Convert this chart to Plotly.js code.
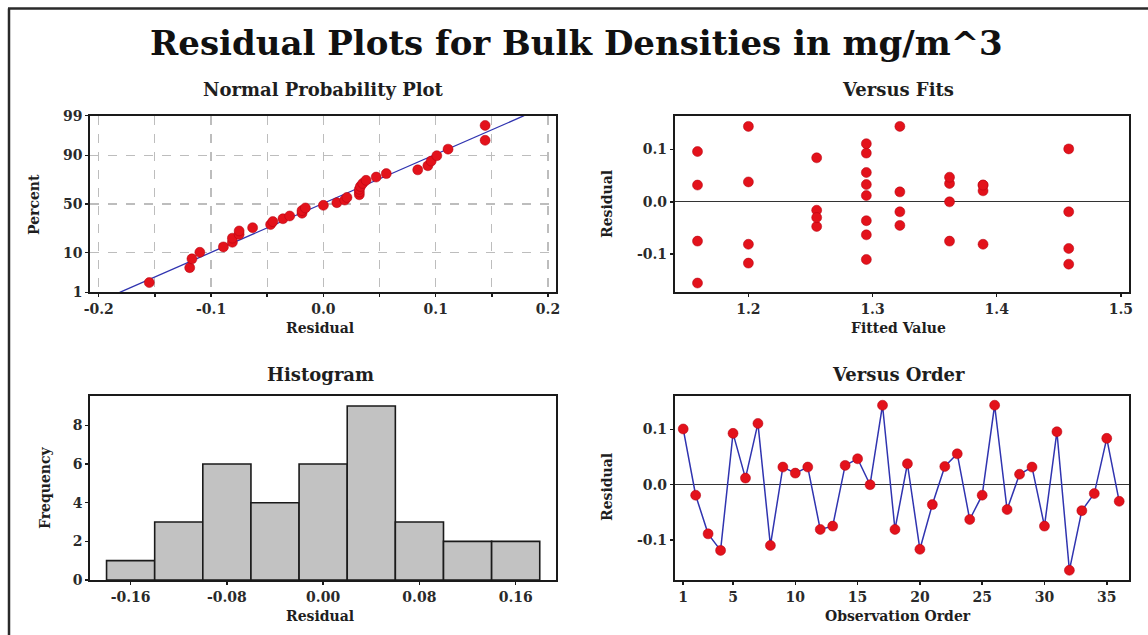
<!DOCTYPE html>
<html>
<head>
<meta charset="utf-8">
<script src="https://cdn.plot.ly/plotly-3.0.1.min.js"></script>
<style>
html,body{margin:0;padding:0;background:#fff;}
#chart{width:1148px;height:635px;}
</style>
</head>
<body>
<div id="chart"></div>
<script>
// ---- data ----
const observationOrder = [1,2,3,4,5,6,7,8,9,10,11,12,13,14,15,16,17,18,19,20,21,22,23,24,25,26,27,28,29,30,31,32,33,34,35,36];
const residuals = [0.101,-0.019,-0.089,-0.119,0.093,0.012,0.111,-0.110,0.032,0.021,0.032,-0.081,
                   -0.075,0.035,0.047,0.000,0.144,-0.081,0.038,-0.117,-0.036,0.033,0.056,-0.063,
                   -0.019,0.144,-0.045,0.019,0.032,-0.075,0.096,-0.155,-0.047,-0.016,0.084,-0.030];
const fittedValues = [1.458,1.458,1.458,1.458,1.295,1.295,1.295,1.295,1.389,1.389,1.389,1.389,
                      1.362,1.362,1.362,1.362,1.200,1.200,1.200,1.200,1.295,1.295,1.295,1.295,
                      1.322,1.322,1.322,1.322,1.159,1.159,1.159,1.159,1.255,1.255,1.255,1.255];

// tick labels
const probTickPercents = [1,10,50,90,99];
const probTickLabels = ['1','10','50','90','99'];
const npXTickVals = [-0.2,-0.15,-0.1,-0.05,0,0.05,0.1,0.15,0.2];
const npXTickText = ['-0.2','','-0.1','','0.0','','0.1','','0.2'];
const fitsXTickVals = [1.2,1.3,1.4,1.5];
const fitsXTickText = ['1.2','1.3','1.4','1.5'];
const residTickVals = [-0.1,0,0.1];
const residTickText = ['-0.1','0.0','0.1'];
const histXTickVals = [-0.16,-0.08,0,0.08,0.16];
const histXTickText = ['-0.16','-0.08','0.00','0.08','0.16'];
const histYTickVals = [0,2,4,6,8];
const orderTickVals = [1,5,10,15,20,25,30,35];

// ---- inverse normal CDF (Acklam) ----
function normInv(p){
  const a=[-3.969683028665376e+01,2.209460984245205e+02,-2.759285104469687e+02,1.383577518672690e+02,-3.066479806614716e+01,2.506628277459239e+00];
  const b=[-5.447609879822406e+01,1.615858368580409e+02,-1.556989798598866e+02,6.680131188771972e+01,-1.328068155288572e+01];
  const c=[-7.784894002430293e-03,-3.223964580411365e-01,-2.400758277161838e+00,-2.549732539343734e+00,4.374664141464968e+00,2.938163982698783e+00];
  const d=[7.784695709041462e-03,3.224671290700398e-01,2.445134137142996e+00,3.754408661907416e+00];
  const pl=0.02425, ph=1-pl;
  let q,r;
  if(p<pl){q=Math.sqrt(-2*Math.log(p));return (((((c[0]*q+c[1])*q+c[2])*q+c[3])*q+c[4])*q+c[5])/((((d[0]*q+d[1])*q+d[2])*q+d[3])*q+1);}
  if(p>ph){q=Math.sqrt(-2*Math.log(1-p));return -(((((c[0]*q+c[1])*q+c[2])*q+c[3])*q+c[4])*q+c[5])/((((d[0]*q+d[1])*q+d[2])*q+d[3])*q+1);}
  q=p-0.5;r=q*q;
  return (((((a[0]*r+a[1])*r+a[2])*r+a[3])*r+a[4])*r+a[5])*q/(((((b[0]*r+b[1])*r+b[2])*r+b[3])*r+b[4])*r+1);
}

// normal probability positions (median ranks)
const n = residuals.length;
const sorted = residuals.slice().sort((a,b)=>a-b);
const zScores = sorted.map((v,i)=>normInv((i+1-0.3)/(n+0.4)));
const mean = residuals.reduce((s,v)=>s+v,0)/n;
const sd = Math.sqrt(residuals.reduce((s,v)=>s+(v-mean)*(v-mean),0)/(n-1));
const zLo = normInv(0.01), zHi = normInv(0.99);
const lineZ = [zLo, zHi];
const lineX = lineZ.map(z=>mean+sd*z);
const probTickZ = probTickPercents.map(p=>normInv(p/100));

// ---- styling ----
const FONT = 'DejaVu Serif';
const tickFont = {family:FONT, size:14, color:'#2a2a2a', weight:'bold'};
const RED = '#e3121b';
const BLUE = '#3034b0';
const W = 1148, H = 635;
const px = v => v/W;
const py = v => 1 - v/H;

function baseAxis(extra){
  return Object.assign({
    showline:true, mirror:true, linecolor:'#1a1a1a', linewidth:2,
    ticks:'outside', ticklen:3, tickcolor:'#1a1a1a', tickwidth:1.5,
    tickfont:tickFont, showgrid:false, zeroline:false, fixedrange:true,
    tickmode:'array'
  }, extra);
}

const traces = [
  {type:'scatter', mode:'lines', x:lineX, y:lineZ, xaxis:'x', yaxis:'y',
   line:{color:BLUE, width:1.3}, hoverinfo:'skip'},
  {type:'scatter', mode:'markers', x:sorted, y:zScores, xaxis:'x', yaxis:'y',
   marker:{color:RED, size:10, line:{color:'#b00010', width:0.5}}},
  {type:'scatter', mode:'markers', x:fittedValues, y:residuals, xaxis:'x2', yaxis:'y2',
   marker:{color:RED, size:10, line:{color:'#b00010', width:0.5}}},
  {type:'histogram', x:residuals, xaxis:'x3', yaxis:'y3',
   xbins:{start:-0.18, end:0.18, size:0.04},
   marker:{color:'#c2c2c2', line:{color:'#1a1a1a', width:1.6}}},
  {type:'scatter', mode:'lines+markers', x:observationOrder, y:residuals, xaxis:'x4', yaxis:'y4',
   line:{color:BLUE, width:1.5},
   marker:{color:RED, size:10, line:{color:'#b00010', width:0.5}}}
];

const topDom = [py(292.3), py(115.7)];
const botDom = [py(580), py(396)];
const leftDom = [px(90.3), px(556)];
const rightDom = [px(674.9), px(1128.8)];

function ann(text, x, y, size, extra){
  return Object.assign({text:text, xref:'paper', yref:'paper', x:px(x), y:py(y),
    xanchor:'center', yanchor:'middle', showarrow:false,
    font:{family:FONT, size:size, color:'#1e1e1e', weight:'bold'}}, extra||{});
}

const layout = {
  width:W, height:H,
  margin:{l:0, r:0, t:0, b:0},
  paper_bgcolor:'#ffffff', plot_bgcolor:'#ffffff',
  showlegend:false, bargap:0,
  xaxis: baseAxis({domain:leftDom, anchor:'y', range:[-0.2075,0.2071],
    tickvals:npXTickVals, ticktext:npXTickText,
    showgrid:true, griddash:'dash', gridcolor:'#bdbdbd', gridwidth:1.2}),
  yaxis: baseAxis({domain:topDom, anchor:'x', range:[zLo,zHi],
    tickvals:probTickZ, ticktext:probTickLabels,
    showgrid:true, griddash:'dash', gridcolor:'#bdbdbd', gridwidth:1.2}),
  xaxis2: baseAxis({domain:rightDom, anchor:'y2', range:[1.1408,1.5064],
    tickvals:fitsXTickVals, ticktext:fitsXTickText}),
  yaxis2: baseAxis({domain:topDom, anchor:'x2', range:[-0.1727,0.1644],
    tickvals:residTickVals, ticktext:residTickText,
    zeroline:true, zerolinecolor:'#333', zerolinewidth:1.3}),
  xaxis3: baseAxis({domain:leftDom, anchor:'y3', range:[-0.1935,0.1935],
    tickvals:histXTickVals, ticktext:histXTickText}),
  yaxis3: baseAxis({domain:botDom, anchor:'x3', range:[0,9.52],
    tickvals:histYTickVals}),
  xaxis4: baseAxis({domain:rightDom, anchor:'y4', range:[0.334,36.77],
    tickvals:orderTickVals}),
  yaxis4: baseAxis({domain:botDom, anchor:'x4', range:[-0.1726,0.1607],
    tickvals:residTickVals, ticktext:residTickText,
    zeroline:true, zerolinecolor:'#333', zerolinewidth:1.3}),
  annotations:[
    ann('Residual Plots for Bulk Densities in mg/m^3', 576, 43, 34, {font:{family:FONT,size:34,color:'#111',weight:'bold'}}),
    ann('Normal Probability Plot', 323, 89, 18),
    ann('Versus Fits', 898, 89, 18),
    ann('Histogram', 320, 375, 18),
    ann('Versus Order', 898, 375, 18),
    ann('Residual', 320, 328, 14),
    ann('Fitted Value', 898, 328, 14),
    ann('Residual', 320, 616, 14),
    ann('Observation Order', 898, 616, 14),
    ann('Percent', 34, 205, 14, {textangle:-90}),
    ann('Residual', 607, 204, 14, {textangle:-90}),
    ann('Frequency', 45, 488, 14, {textangle:-90}),
    ann('Residual', 607, 487, 14, {textangle:-90})
  ],
  shapes:[
    {type:'line', xref:'paper', yref:'paper', x0:px(9), x1:px(9), y0:0, y1:py(8.5), line:{color:'#2a2a2a', width:2.5}},
    {type:'line', xref:'paper', yref:'paper', x0:px(8), x1:1, y0:py(8.5), y1:py(8.5), line:{color:'#2a2a2a', width:2.5}}
  ]
};

Plotly.newPlot('chart', traces, layout, {displayModeBar:false, staticPlot:true});
</script>
</body>
</html>
